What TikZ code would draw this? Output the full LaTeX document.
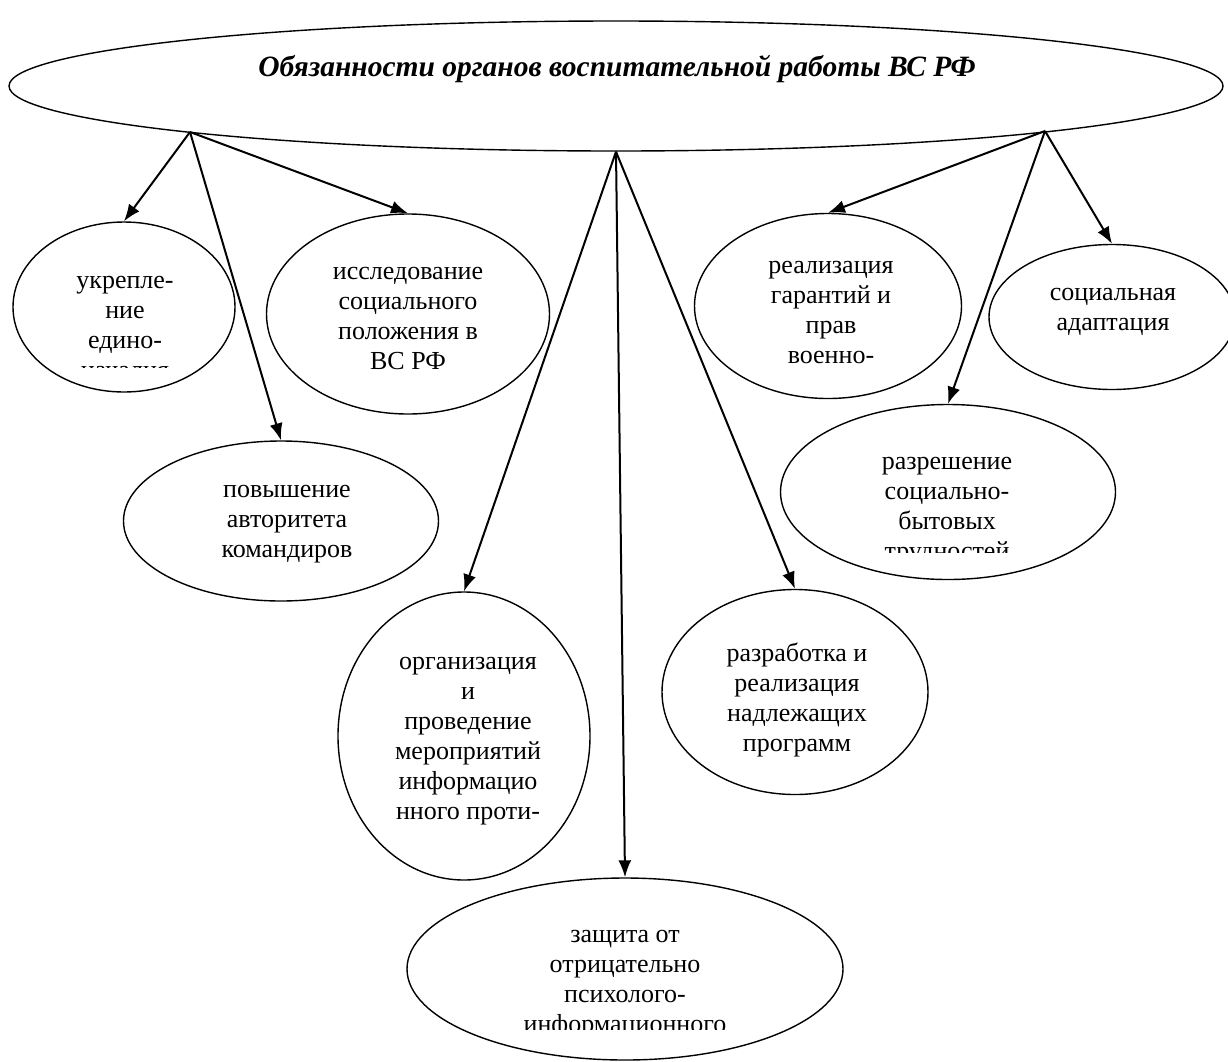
\documentclass[tikz,border=0pt]{standalone}
\usepackage{fontspec}
\setmainfont{Liberation Serif}
\usetikzlibrary{shapes.geometric}
\usetikzlibrary{arrows.meta}

\begin{document}
\begin{tikzpicture}[x=1pt,y=-1pt,>={Latex[length=17pt,width=13pt]}]
    \tikzset{oval/.style= {draw, ellipse, line width=1.4pt, inner sep=0pt},
             txt/.style= {align=center, font=\fontsize{26}{30}\selectfont},
             link/.style= {->, line width=2pt}}

    \useasboundingbox (0,0) rectangle (1228,1061);

    \node [oval, minimum width=1214, minimum height=130] (top) at (616,86) {};
    \node [font=\fontsize{29.5}{35}\selectfont\bfseries\itshape] (title) at (617,69) {Обязанности органов воспитательной работы ВС РФ};
    \coordinate (lsrc) at (190,132);
    \coordinate (rsrc) at (1045,131);

    \node [oval, minimum width=222, minimum height=170] (edin) at (124,307) {};
    \node [oval, minimum width=283, minimum height=200] (issl) at (408,314) {};
    \node [oval, minimum width=315, minimum height=160] (povysh) at (281,521) {};
    \node [oval, minimum width=252, minimum height=288] (org) at (464,736) {};
    \node [oval, minimum width=436, minimum height=182] (zash) at (625,969) {};
    \node [oval, minimum width=266, minimum height=205] (razrab) at (795,692) {};
    \node [oval, minimum width=267, minimum height=185] (realiz) at (828,306) {};
    \node [oval, minimum width=246, minimum height=145] (soc) at (1112,317) {};
    \node [oval, minimum width=335, minimum height=175] (bytov) at (948,492) {};

    % texts, some cut off as in the scheme
    \begin{scope}
        \clip (0,0) rectangle (1228,367);
        \node [txt] (edin-t) at (125,327) {укрепле-\\ние\\едино-\\началия};
    \end{scope}
    \node [txt] (issl-t) at (408,318) {исследование\\социального\\положения в\\ВС РФ};
    \node [txt] (povysh-t) at (287,524) {повышение\\авторитета\\командиров};
    \node [txt] (org-t) at (468,741) {организация\\и\\проведение\\мероприятий\\информацио\\нного проти-};
    \begin{scope}
        \clip (0,0) rectangle (1228,1029);
        \node [txt] (zash-t) at (625,984) {защита от\\отрицательно\\психолого-\\информационного};
    \end{scope}
    \node [txt] (razrab-t) at (797,700) {разработка и\\реализация\\надлежащих\\программ};
    \node [txt] (realiz-t) at (831,312) {реализация\\гарантий и\\прав\\военно-};
    \node [txt] (soc-t) at (1113,312) {социальная\\адаптация};
    \begin{scope}
        \clip (0,0) rectangle (1228,552);
        \node [txt] (bytov-t) at (947,511) {разрешение\\социально-\\бытовых\\трудностей};
    \end{scope}

    \draw [link] (lsrc) -- (edin.north);
    \draw [link] (lsrc) -- (issl.north);
    \draw [link] (lsrc) -- (povysh.north);
    \draw [link] (top.south) -- (org.north);
    \draw [link] (top.south) -- (zash.north);
    \draw [link] (top.south) -- (razrab.north);
    \draw [link] (rsrc) -- (realiz.north);
    \draw [link] (rsrc) -- (bytov.north);
    \draw [link] (rsrc) -- (soc.north);
\end{tikzpicture}
\end{document}
